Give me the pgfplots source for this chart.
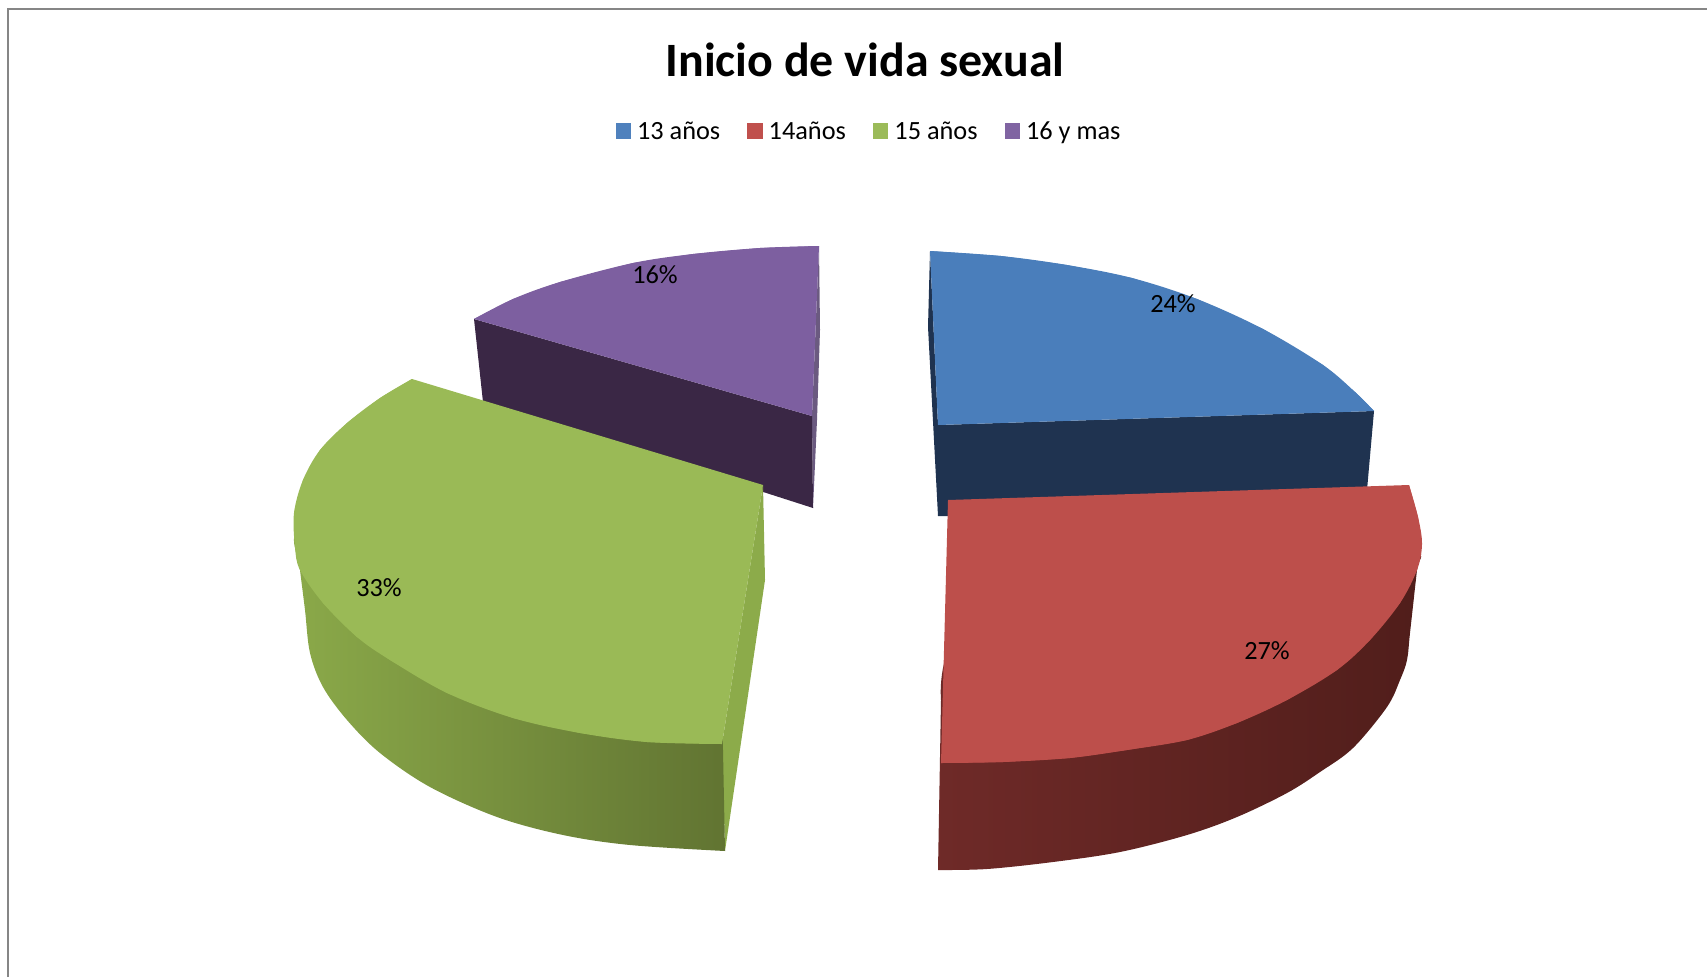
\documentclass[border=0pt]{standalone}
\usepackage{fontspec}
\setmainfont{Carlito}
\usepackage{pgfplots}
\pgfplotsset{compat=1.18}
\definecolor{lB}{HTML}{4F81BD}\definecolor{lR}{HTML}{C0504D}\definecolor{lG}{HTML}{9BBB59}\definecolor{lP}{HTML}{8064A2}
\definecolor{cB}{HTML}{4A7EBB}\definecolor{cBs}{HTML}{1F3350}
\definecolor{cR}{HTML}{BD4F4B}\definecolor{cRa}{HTML}{6F2A28}\definecolor{cRb}{HTML}{4F1D1A}
\definecolor{cG}{HTML}{9ABA56}\definecolor{cGa}{HTML}{8CAB4A}\definecolor{cGb}{HTML}{5E7030}
\definecolor{cP}{HTML}{7D5FA0}\definecolor{cPs}{HTML}{3A2745}\definecolor{cPe}{HTML}{6B5A80}
\begin{document}
\begin{tikzpicture}
\useasboundingbox (0,0) rectangle (1707pt,977pt);
\begin{axis}[
  at={(0,0)},anchor=south west,
  width=1707pt,height=977pt,scale only axis,
  xmin=0,xmax=1707,ymin=0,ymax=977,y dir=reverse,
  hide axis,clip=true,
  legend columns=4,
  legend style={at={(axis cs:869,130)},anchor=center,draw=none,fill=none,
    font=\fontsize{26.3}{30}\selectfont,
    /tikz/every even column/.append style={column sep=25pt}},
  legend image code/.code={\path (0pt,0pt) (19.5pt,0pt);\fill[#1] (0pt,-8.5pt) rectangle (15.5pt,7pt);},
  every axis plot/.append style={forget plot,no markers,draw=none},
]
\addlegendimage{fill=lB,draw=none}\addlegendentry{\strut 13 años}
\addlegendimage{fill=lR,draw=none}\addlegendentry{\strut 14años}
\addlegendimage{fill=lG,draw=none}\addlegendentry{\strut 15 años}
\addlegendimage{fill=lP,draw=none}\addlegendentry{\strut 16 y mas}

% frame
\addplot[draw=gray!95,line width=2pt] coordinates {(8,977) (8,9) (1707,9)};

% purple
\addplot[fill=cPe] coordinates {(819,246) (820,330) (817,420) (813,508) (812,416)};
\addplot[fill=cPs] coordinates {(474,319) (812,416) (813,508) (483,402)};
\addplot[fill=cP,smooth,tension=0.55] coordinates {(474,319) (513,299) (560,282) (633,263) (693,254) (760,248) (819,246)};
\addplot[fill=cP] coordinates {(474,319) (513,299) (560,282) (633,263) (693,254) (760,248) (819,246) (812,416)};

% blue
\addplot[fill=cBs] coordinates {(930,251) (928,327) (938,516) (948,516) (1367,490) (1374,411) (938,425)};
\addplot[fill=cB,smooth,tension=0.55] coordinates {(930,251) (1001,256) (1067,265) (1132,278) (1197,299) (1263,329) (1323,365) (1355,392) (1374,411)};
\addplot[fill=cB] coordinates {(930,251) (1001,256) (1067,265) (1132,278) (1197,299) (1263,329) (1323,365) (1355,392) (1374,411) (938,425)};

% green
\addplot[fill=cGa] coordinates {(763,485) (765,580) (725,851) (722,744)};
\addplot[left color=cGa,right color=cGb,smooth,tension=0.55] coordinates {(725,851) (630,845) (563,835) (497,817) (430,787) (380,753) (347,720) (323,687) (310,653) (305,610) (300,570) (296,535) (340,560) (700,600) (722,700)};
\addplot[fill=cG,smooth,tension=0.55] coordinates {(412,379) (380,398) (347,423) (320,450) (303,480) (294,513) (295,547) (300,570) (323,603) (357,637) (390,660) (447,693) (513,718) (580,733) (647,742) (722,744)};
\addplot[fill=cG] coordinates {(412,379) (380,398) (347,423) (320,450) (303,480) (294,513) (295,547) (300,570) (323,603) (357,637) (390,660) (447,693) (513,718) (580,733) (647,742) (722,744) (763,485)};

% red
\addplot[left color=cRa,right color=cRb,smooth,tension=0.55] coordinates {(938,870) (987,869) (1053,862) (1120,852) (1187,835) (1237,817) (1287,793) (1320,772) (1353,748) (1387,707) (1400,680) (1407,660) (1410,633) (1417,570) (1419,555) (1380,560) (1000,600) (941,700)};
\addplot[fill=cR,smooth,tension=0.55] coordinates {(1409,485) (1418,517) (1422,544) (1417,570) (1400,603) (1370,640) (1337,670) (1287,700) (1237,723) (1187,740) (1127,750) (1070,758) (1003,762) (941,763)};
\addplot[fill=cR] coordinates {(948,500) (1409,485) (1418,517) (1422,544) (1417,570) (1400,603) (1370,640) (1337,670) (1287,700) (1237,723) (1187,740) (1127,750) (1070,758) (1003,762) (941,763)};

% texts
\node[font=\fontsize{47.9}{52}\selectfont\bfseries] at (axis cs:865,60) {Inicio de vida sexual};
\node[font=\fontsize{26.3}{30}\selectfont] at (axis cs:655,275) {16\%};
\node[font=\fontsize{26.3}{30}\selectfont] at (axis cs:1173,304) {24\%};
\node[font=\fontsize{26.3}{30}\selectfont] at (axis cs:1267,651) {27\%};
\node[font=\fontsize{26.3}{30}\selectfont] at (axis cs:379,588) {33\%};
\end{axis}
\end{tikzpicture}
\end{document}
